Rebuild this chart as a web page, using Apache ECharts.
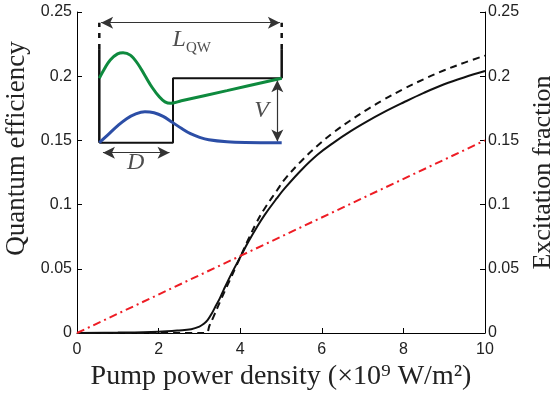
<!DOCTYPE html>
<html>
<head>
<meta charset="utf-8">
<script src="https://cdn.jsdelivr.net/npm/echarts@6/dist/echarts.min.js"></script>
<style>html,body{margin:0;padding:0;background:#fff}#c{width:550px;height:394px}</style>
</head>
<body>
<div id="c"></div>
<script>
// ---- main chart data ----
const solidX = [0,1,2,2.5,2.8,3.0,3.1,3.2,3.3,3.4,3.5,3.6,3.8,4.0,4.2,4.4,4.6,4.9,5.1,5.5,5.9,6.3,6.7,7.1,7.5,8.0,8.5,9.0,9.5,10];
const solidY = [0,0.0003,0.001,0.002,0.003,0.005,0.007,0.010,0.015,0.021,0.027,0.034,0.047,0.059,0.071,0.082,0.092,0.105,0.113,0.127,0.139,0.1485,0.157,0.1646,0.1716,0.1795,0.187,0.1937,0.1992,0.204];
const dashX = [0,3.15,3.25,3.35,3.5,3.7,3.9,4.0,4.2,4.4,4.6,4.9,5.1,5.5,5.9,6.3,6.7,7.1,7.5,8.0,8.5,9.0,9.5,10];
const dashY = [0,0,0.006,0.013,0.024,0.038,0.052,0.059,0.073,0.086,0.097,0.111,0.120,0.134,0.146,0.1565,0.1655,0.1738,0.1814,0.190,0.1977,0.2046,0.2106,0.216];
const excX = [0,10];
const excY = [0,0.15];

// ---- inset schematic (normalised units) ----
const wellX = [0,0.404,0.404,1];
const wellY = [0,0,0.537,0.537];
const greenX = [0,0.03,0.06,0.1,0.13,0.17,0.21,0.25,0.29,0.33,0.36,0.39,0.45,0.7,1];
const greenY = [0.537,0.62,0.69,0.74,0.75,0.73,0.66,0.56,0.46,0.38,0.34,0.328,0.349,0.434,0.537];
const blueX = [0,0.05,0.1,0.15,0.2,0.25,0.3,0.35,0.4,0.45,0.5,0.55,0.6,0.7,0.8,1];
const blueY = [0,0.07,0.14,0.2,0.24,0.258,0.25,0.22,0.17,0.12,0.075,0.045,0.025,0.008,0.002,0];

const zip = (a,b)=>a.map((v,i)=>[v,b[i]]);
const serif = '"Liberation Serif", "DejaVu Serif", serif';
const sans = '"Liberation Sans", Arial, sans-serif';

const chart = echarts.init(document.getElementById('c'), null, {renderer:'canvas'});
const insetLine = (data, color, width, type) => ({
  type:'line', xAxisIndex:1, yAxisIndex:2, data, symbol:'none', silent:true, clip:false,
  lineStyle:{color, width, type: type||'solid'}, z:5
});
const arrow = (a, b) => [{coord:a},{coord:b}];

chart.setOption({
  animation:false,
  grid:[
    {left:77, right:65, top:12, bottom:61, containLabel:false, outerBoundsMode:'none'},
    {left:99.3, width:182.4, top:22.7, height:150, containLabel:false, outerBoundsMode:'none'}
  ],
  xAxis:[
    {type:'value', gridIndex:0, min:0, max:10, interval:2,
     axisLine:{lineStyle:{color:'#000', width:1}},
     axisTick:{inside:true, length:5, lineStyle:{color:'#000'}},
     splitLine:{show:false},
     axisLabel:{fontFamily:sans, fontSize:16, color:'#222', margin:9},
     name:'Pump power density (×10⁹ W/m²)', nameLocation:'middle', nameGap:30,
     nameTextStyle:{fontFamily:serif, fontSize:28, color:'#222'}},
    {type:'value', gridIndex:1, min:0, max:1, show:false}
  ],
  yAxis:[
    {type:'value', gridIndex:0, min:0, max:0.25, interval:0.05, position:'left',
     axisLine:{show:true, lineStyle:{color:'#000', width:1}},
     axisTick:{show:true, inside:true, length:5, lineStyle:{color:'#000'}},
     splitLine:{show:false},
     axisLabel:{fontFamily:sans, fontSize:16, color:'#222', margin:5},
     name:'Quantum efficiency', nameLocation:'middle', nameGap:46, nameRotate:90,
     nameTextStyle:{fontFamily:serif, fontSize:27, color:'#222', padding:[0,0,0,48]}},
    {type:'value', gridIndex:0, min:0, max:0.25, interval:0.05, position:'right',
     axisLine:{show:true, lineStyle:{color:'#000', width:1}},
     axisTick:{show:true, inside:true, length:5, lineStyle:{color:'#000'}},
     splitLine:{show:false},
     axisLabel:{fontFamily:sans, fontSize:16, color:'#222', margin:3},
     name:'Excitation fraction', nameLocation:'middle', nameGap:43, nameRotate:90,
     nameTextStyle:{fontFamily:serif, fontSize:26, color:'#222'}},
    {type:'value', gridIndex:1, min:-0.25, max:1, show:false}
  ],
  series:[
    {type:'line', xAxisIndex:0, yAxisIndex:0, data:zip(solidX,solidY), symbol:'none', smooth:0.4,
     lineStyle:{color:'#111', width:2}},
    {type:'line', xAxisIndex:0, yAxisIndex:0, data:zip(dashX,dashY), symbol:'none', smooth:0.4,
     lineStyle:{color:'#111', width:2, type:[7,5]}},
    {type:'line', xAxisIndex:0, yAxisIndex:1, data:zip(excX,excY), symbol:'none',
     lineStyle:{color:'#ee1c24', width:2, type:[8,4,2,4]}},
    // inset
    insetLine(zip(wellX,wellY), '#111', 2),
    insetLine([[0,0],[0,0.78]], '#111', 2.5),
    insetLine([[0,0.78],[0,1.0]], '#111', 2.5, [5,6]),
    insetLine([[1,0.537],[1,0.78]], '#111', 2.5),
    insetLine([[1,0.78],[1,1.0]], '#111', 2.5, [5,6]),
    Object.assign(insetLine(zip(greenX,greenY), '#0e8a3e', 3), {smooth:0.35}),
    Object.assign(insetLine(zip(blueX,blueY), '#2c4ea6', 3), {smooth:0.35}),
    {type:'line', xAxisIndex:1, yAxisIndex:2, data:[], symbol:'none', silent:true,
     markLine:{silent:true, symbol:['arrow','arrow'], symbolSize:[9,12], animation:false,
       label:{show:false}, lineStyle:{color:'#333', width:1.2, type:'solid'},
       data:[arrow([0.01,1],[0.99,1]), arrow([0.976,0.52],[0.976,0.01]), arrow([0.02,-0.083],[0.385,-0.083])]}},
    {type:'scatter', xAxisIndex:1, yAxisIndex:2, symbolSize:0, silent:true, z:6,
     data:[
       {value:[0.507,0.856], label:{formatter:'{l|L}{s|QW}'}},
       {value:[0.89,0.27], label:{formatter:'{l|V}'}},
       {value:[0.2,-0.17], label:{formatter:'{l|D}'}}
     ],
     label:{show:true, position:'inside', color:'#222',
       rich:{
         l:{fontFamily:serif, fontStyle:'italic', fontSize:24, color:'#222', verticalAlign:'bottom'},
         s:{fontFamily:serif, fontSize:15, color:'#222', verticalAlign:'bottom', padding:[0,0,-4,0]}
       }}}
  ]
});
</script>
</body>
</html>
